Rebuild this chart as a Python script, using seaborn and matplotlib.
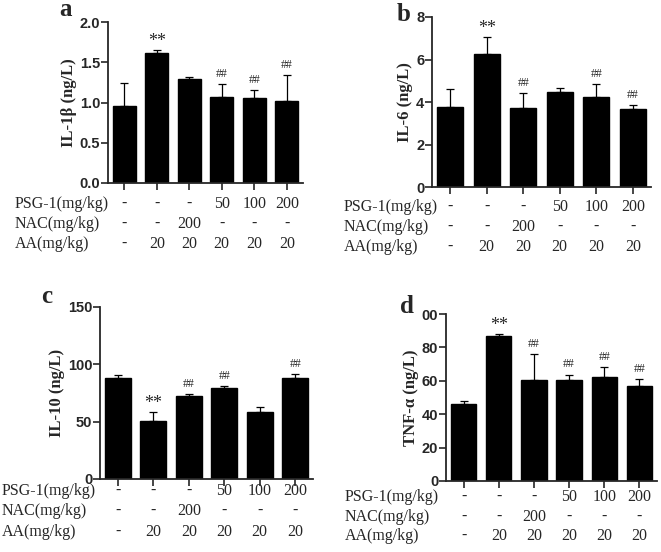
import numpy as np
import pandas as pd
import seaborn as sns
import matplotlib.pyplot as plt
import matplotlib.transforms as mtransforms

# ── Data ───────────────────────────────────────────────────────────────────────
groups = ['G1', 'G2', 'G3', 'G4', 'G5', 'G6']

il1b_mean = [0.96, 1.61, 1.29, 1.07, 1.06, 1.02]
il1b_sem  = [0.28, 0.04, 0.03, 0.16, 0.09, 0.32]
il6_mean  = [3.78, 6.25, 3.70, 4.47, 4.25, 3.67]
il6_sem   = [0.82, 0.80, 0.73, 0.18, 0.60, 0.20]
il10_mean = [88.0, 50.5, 72.8, 79.0, 58.0, 88.4]
il10_sem  = [2.7, 7.5, 1.0, 2.0, 4.5, 3.2]
tnf_mean  = [46.2, 86.6, 60.5, 60.5, 62.3, 57.0]
tnf_sem   = [1.8, 1.4, 15.7, 3.2, 5.8, 4.0]

marks_a = ['', '**', '', '##', '##', '##']
marks_b = ['', '**', '##', '', '##', '##']
marks_c = ['', '**', '##', '##', '', '##']
marks_d = ['', '**', '##', '##', '##', '##']

row_names = ['PSG-1(mg/kg)', 'NAC(mg/kg)', 'AA(mg/kg)']
psg_row = ['-', '-', '-', '50', '100', '200']
nac_row = ['-', '-', '200', '-', '-', '-']
aa_row  = ['-', '20', '20', '20', '20', '20']

# ── Figure ─────────────────────────────────────────────────────────────────────
sns.set_style('ticks')
W, H = 661, 552
fig = plt.figure(figsize=(W / 100, H / 100), dpi=100)

SERIF = ['Liberation Serif', 'DejaVu Serif']
SANS  = ['Liberation Sans', 'DejaVu Sans']


def px_axes(left, top, right, bottom):
    return fig.add_axes([left / W, 1 - bottom / H, (right - left) / W, (bottom - top) / H])


def draw_panel(box, means, sems, marks, ylabel, yticks, yticklabels,
               letter, letter_xy, label_x, rows_y):
    ax = px_axes(*box)
    df = pd.DataFrame({'group': groups, 'value': means})
    sns.barplot(data=df, x='group', y='value', color='black', width=0.72,
                saturation=1, ax=ax, errorbar=None)
    for p in ax.patches:
        p.set_edgecolor('black')
    x = np.arange(len(groups))
    ax.errorbar(x, means, yerr=[np.zeros(len(sems)), sems], fmt='none',
                ecolor='black', elinewidth=0.9, capsize=3, capthick=0.9)

    ax.set_xlim(-0.5, len(groups) - 0.5)
    ax.set_ylim(yticks[0], yticks[-1])
    ax.set_yticks(yticks)
    ax.set_yticklabels(yticklabels, fontsize=10.5, fontweight='bold',
                       family=SANS)
    ax.set_xticks(x)
    ax.set_xticklabels([])
    ax.set_xlabel('')
    ax.set_ylabel(ylabel, fontsize=12, fontweight='bold', family=SERIF,
                  labelpad=2)
    sns.despine(ax=ax)
    for s in ('left', 'bottom'):
        ax.spines[s].set_linewidth(1.3)
    ax.tick_params(axis='both', width=1.2, length=5, pad=0.5)

    # significance marks
    for i, m in enumerate(marks):
        if not m:
            continue
        top = means[i] + sems[i]
        if m == '**':
            ax.annotate(m, (i, top), xytext=(0, 0), textcoords='offset points',
                        ha='center', va='bottom', fontsize=13, family=SERIF)
        else:
            ax.annotate(m, (i, top), xytext=(0, 3), textcoords='offset points',
                        ha='center', va='bottom', fontsize=8.5, family=SERIF)

    # treatment table under the axis
    trans = mtransforms.blended_transform_factory(ax.transData, fig.transFigure)
    for name, vals, ry in zip(row_names, [psg_row, nac_row, aa_row], rows_y):
        fig.text(label_x / W, 1 - ry / H, name, ha='left', va='center',
                 fontsize=11.5, family=SERIF)
        for i, v in enumerate(vals):
            ax.text(i, 1 - ry / H, v, transform=trans, ha='center',
                    va='center', fontsize=11.5, family=SERIF,
                    fontweight='bold' if v == '-' else 'normal')

    fig.text(letter_xy[0] / W, 1 - letter_xy[1] / H, letter, ha='center',
             va='baseline', fontsize=18, fontweight='bold', family=SERIF)
    return ax


draw_panel((108, 22, 303, 183), il1b_mean, il1b_sem, marks_a,
           'IL-1β (ng/L)', [0.0, 0.5, 1.0, 1.5, 2.0],
           ['0.0', '0.5', '1.0', '1.5', '2.0'],
           'a', (65, 16), 15, (204, 224, 244))

draw_panel((432, 17, 651, 187), il6_mean, il6_sem, marks_b,
           'IL-6 (ng/L)', [0, 2, 4, 6, 8], ['0', '2', '4', '6', '8'],
           'b', (404, 21), 344, (207, 227, 247))

draw_panel((100, 307, 313, 479), il10_mean, il10_sem, marks_c,
           'IL-10 (ng/L)', [0, 50, 100, 150], ['0', '50', '100', '150'],
           'c', (47, 303), 2, (491, 511, 532))

draw_panel((446, 314, 657, 481), tnf_mean, tnf_sem, marks_d,
           'TNF-α (ng/L)', [0, 20, 40, 60, 80, 100],
           ['0', '20', '40', '60', '80', '00'],
           'd', (407, 313), 345, (497, 517, 536))

plt.savefig('out.png', dpi=100)
